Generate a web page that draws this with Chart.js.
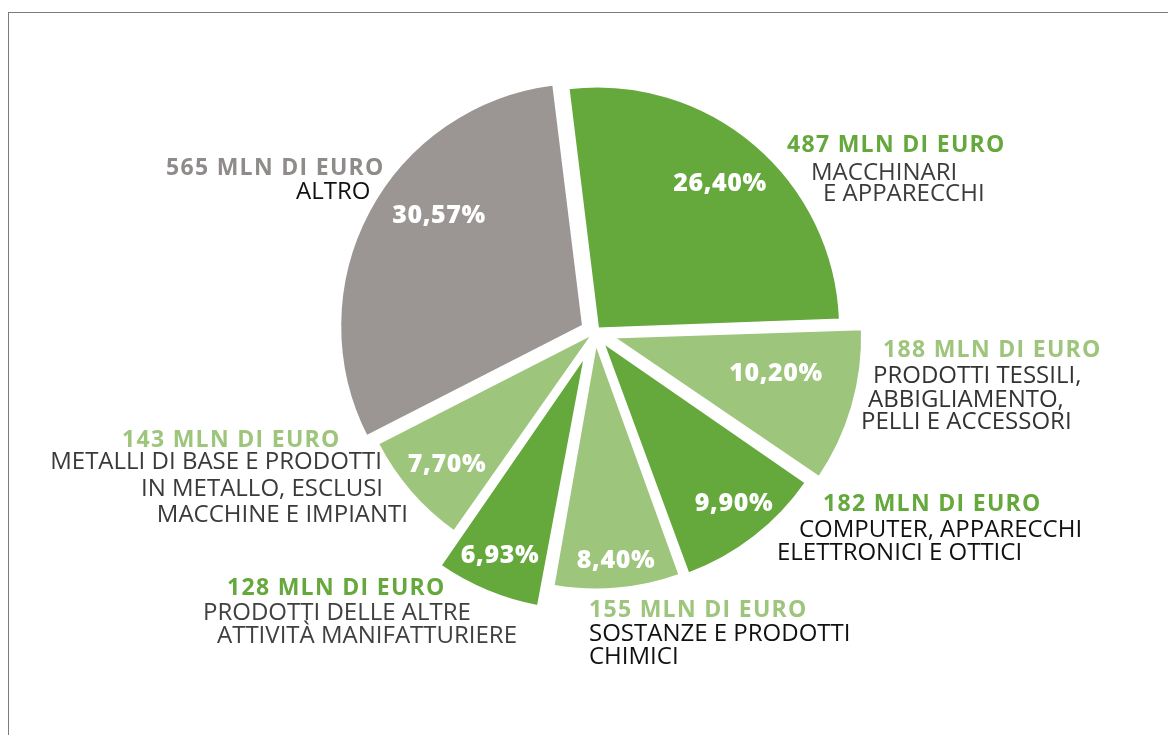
<!DOCTYPE html>
<html>
<head>
<meta charset="utf-8">
<script src="https://cdn.jsdelivr.net/npm/chart.js@4.4.1/dist/chart.umd.min.js"></script>
<style>
  html, body { margin: 0; padding: 0; background: #fff; overflow: hidden; }
  #frame { position: absolute; left: 8px; top: 12px; width: 1300px; height: 900px;
           border-left: 1px solid #7b7b7b; border-top: 1px solid #7b7b7b; }
  #chart { position: absolute; left: 0; top: 0; }
</style>
</head>
<body>
<div id="frame"></div>
<canvas id="chart" width="1168" height="735"></canvas>
<script>
// values in millions of euro, clockwise from the top
const categories = [
  ['MACCHINARI', 'E APPARECCHI'],
  ['PRODOTTI TESSILI,', 'ABBIGLIAMENTO,', 'PELLI E ACCESSORI'],
  ['COMPUTER, APPARECCHI', 'ELETTRONICI E OTTICI'],
  ['SOSTANZE E PRODOTTI', 'CHIMICI'],
  ['PRODOTTI DELLE ALTRE', 'ATTIVITÀ MANIFATTURIERE'],
  ['METALLI DI BASE E PRODOTTI', 'IN METALLO, ESCLUSI', 'MACCHINE E IMPIANTI'],
  ['ALTRO']
];
const values = [487, 188, 182, 155, 128, 143, 565];
const percentages = ['26,40%', '10,20%', '9,90%', '8,40%', '6,93%', '7,70%', '30,57%'];

const DARK = '#65a83c';
const LIGHT = '#9dc57c';
const GREY = '#9b9594';
const sliceColors = [DARK, LIGHT, DARK, LIGHT, DARK, LIGHT, GREY];
const headColors = [DARK, LIGHT, DARK, LIGHT, DARK, LIGHT, '#8f8b8a'];
const lineColors = ['#3c3c3c', '#333', '#111', '#111', '#404040', '#3a3a3a', '#111'];
const sliceOffsets = [16, 72, 48, 40, 96, 4, 52];

// where the callouts sit: [x, baseline] of the value line, then of each text line
// (the METALLI block is anchored on its right edge)
const callouts = [
  { head: [787, 152], lines: [[811, 180], [823, 201]] },
  { head: [883, 357], lines: [[873, 383], [868, 407], [861, 429]] },
  { head: [823, 511], lines: [[799, 537], [777, 560]] },
  { head: [589, 617], lines: [[589, 641], [589, 664]] },
  { head: [227, 595], lines: [[203, 620], [217, 643]] },
  { head: [122, 447], lines: [[382, 469], [383, 496], [408, 522]], align: 'right' },
  { head: [166, 175], lines: [[296, 199]] }
];
const percentSpots = [[720, 191], [776, 381], [734, 511], [616, 568], [500, 563], [447, 472], [439, 223]];

const labelPlugin = {
  id: 'labels',
  afterDatasetsDraw(chart) {
    const ctx = chart.ctx;
    ctx.save();
    ctx.textBaseline = 'alphabetic';

    ctx.textAlign = 'center';
    ctx.fillStyle = '#fff';
    ctx.font = '800 25px "Open Sans"';
    ctx.letterSpacing = '0.6px';
    percentages.forEach((p, i) => {
      ctx.fillText(p, percentSpots[i][0], percentSpots[i][1]);
    });

    values.forEach((v, i) => {
      const c = callouts[i];
      ctx.textAlign = 'left';
      ctx.font = 'bold 23px "Open Sans"';
      ctx.letterSpacing = '1.3px';
      ctx.fillStyle = headColors[i];
      ctx.fillText(v + ' MLN DI EURO', c.head[0], c.head[1]);

      ctx.textAlign = c.align || 'left';
      ctx.font = '24px "Open Sans"';
      ctx.letterSpacing = '0px';
      ctx.fillStyle = lineColors[i];
      categories[i].forEach((line, j) => {
        ctx.fillText(line, c.lines[j][0], c.lines[j][1]);
      });
    });
    ctx.restore();
  }
};

new Chart(document.getElementById('chart'), {
  type: 'pie',
  data: {
    labels: categories.map(c => c.join(' ')),
    datasets: [{
      data: values,
      backgroundColor: sliceColors,
      borderColor: '#fff',
      borderWidth: 3,
      offset: sliceOffsets,
      radius: 243,
      rotation: -7
    }]
  },
  options: {
    responsive: false,
    animation: false,
    events: [],
    layout: { padding: { left: 95, right: 73, top: 32, bottom: 103 } },
    plugins: {
      legend: { display: false },
      tooltip: { enabled: false }
    }
  },
  plugins: [labelPlugin]
});
</script>
</body>
</html>
